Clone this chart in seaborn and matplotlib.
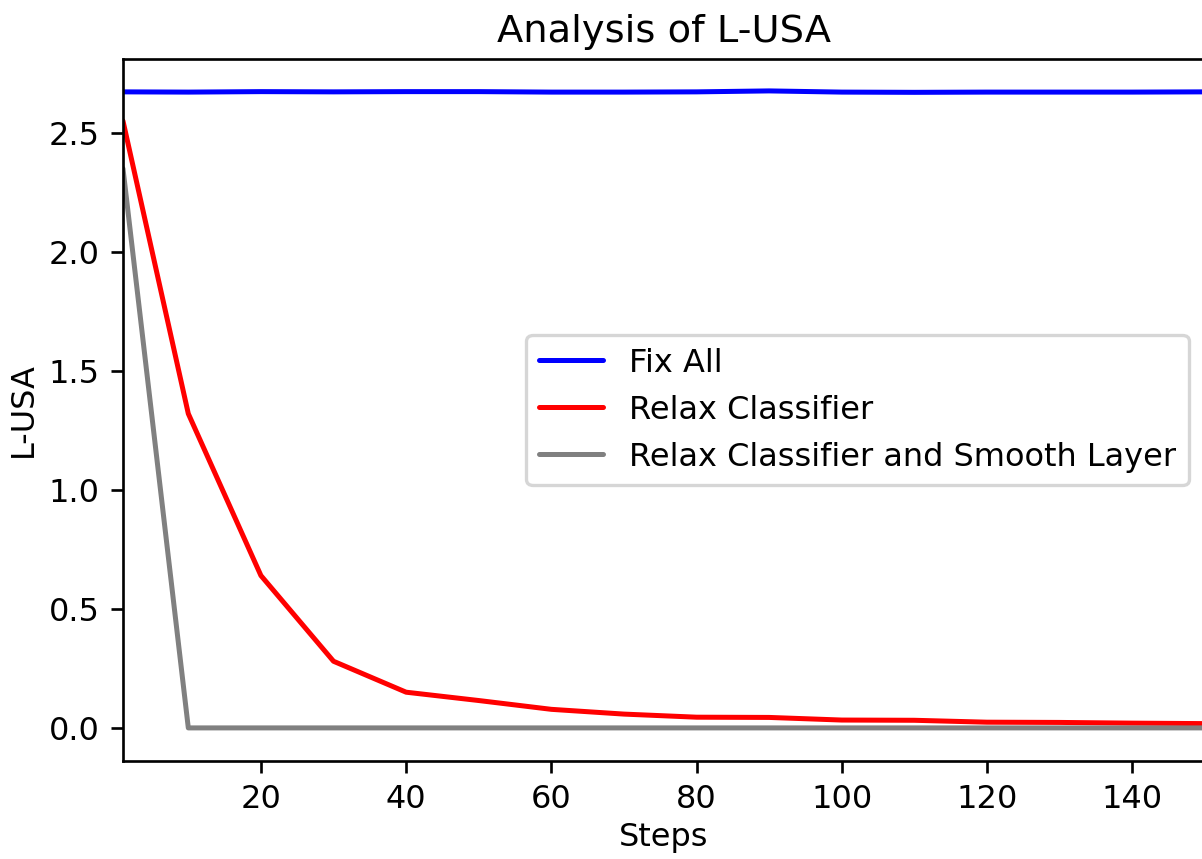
import pandas as pd
import seaborn as sns
import matplotlib.pyplot as plt

steps = [1, 10, 20, 30, 40, 50, 60, 70, 80, 90, 100, 110, 120, 130, 140, 150]
fix_all = [2.672, 2.671, 2.673, 2.672, 2.673, 2.673, 2.671, 2.671, 2.672, 2.676, 2.671,
           2.670, 2.671, 2.671, 2.671, 2.672]
relax_cls = [2.55, 1.32, 0.64, 0.28, 0.15, 0.115, 0.078, 0.058, 0.045, 0.044, 0.033,
             0.032, 0.024, 0.023, 0.02, 0.018]
relax_smooth = [2.35, 0.0, 0.0, 0.0, 0.0, 0.0, 0.0, 0.0, 0.0, 0.0, 0.0, 0.0, 0.0, 0.0, 0.0, 0.0]

names = ['Fix All', 'Relax Classifier', 'Relax Classifier and Smooth Layer']
colors = ['blue', 'red', 'gray']

d = {'Steps': [], 'L-USA': [], 'run': []}
for name, vals in zip(names, [fix_all, relax_cls, relax_smooth]):
    d['Steps'] += steps
    d['L-USA'] += vals
    d['run'] += [name] * len(steps)
df = pd.DataFrame(data=d)

sns.set_style("ticks", rc={'axes.edgecolor': 'black', 'text.color': 'black',
                           'axes.labelcolor': 'black', 'xtick.color': 'black',
                           'ytick.color': 'black'})
plt.rcParams['font.family'] = ['DejaVu Sans']

fig = plt.figure(figsize=(1202 / 240, 859 / 240), dpi=240)
ax = fig.add_axes([0.1023, 0.1141, 0.9, 0.8172])
sns.lineplot(data=df, x='Steps', y='L-USA', hue='run', palette=colors,
             linewidth=1.5, ax=ax)

ax.set_xlim(1, 150)
ax.set_ylim(-0.139, 2.81)
ax.set_xticks([20, 40, 60, 80, 100, 120, 140])
ax.set_yticks([0.0, 0.5, 1.0, 1.5, 2.0, 2.5])
ax.set_title('Analysis of L-USA', fontsize=11.5, pad=5)
ax.set_xlabel('Steps', fontsize=9.6, labelpad=2)
ax.set_ylabel('L-USA', fontsize=9.6, labelpad=3)
ax.tick_params(labelsize=9.6)

handles, labels = ax.get_legend_handles_labels()
ax.legend(handles, labels, loc='center right', fontsize=9.6, frameon=True)

fig.savefig('out.png', dpi=240)
